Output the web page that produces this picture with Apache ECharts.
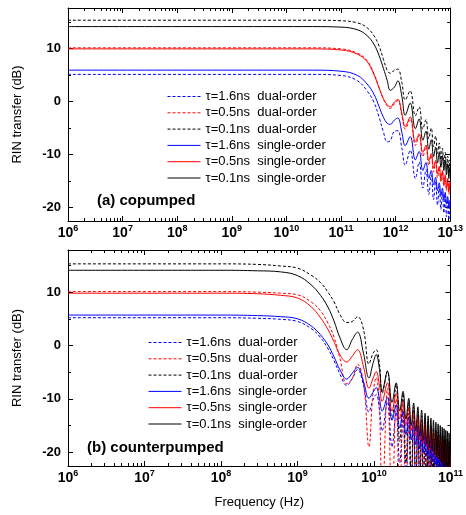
<!DOCTYPE html>
<html>
<head>
<meta charset="utf-8">
<script src="https://cdn.jsdelivr.net/npm/echarts@6/dist/echarts.min.js"></script>
<style>
html, body { margin: 0; padding: 0; background: #fff; }
#chart { width: 466px; height: 515px; }
</style>
</head>
<body>
<div id="chart"></div>
<script>
var FONT = "'Liberation Sans', Arial, sans-serif";

var names = ['τ=1.6ns  dual-order', 'τ=0.5ns  dual-order', 'τ=0.1ns  dual-order',
             'τ=1.6ns  single-order', 'τ=0.5ns  single-order', 'τ=0.1ns  single-order'];
var colors = ['#0000ff', '#ff0000', '#000000', '#0000ff', '#ff0000', '#000000'];
var dashed = [true, true, true, false, false, false];

var yTicks = [-20, -10, 0, 10];
var yMinorTicks = [-15, -5, 5, 15];

// (a) copumped, frequency in Hz, RIN transfer in dB
var coFreq = [1e6, 3e10, 1e11, 2e11, 3e11, 4e11, 5e11, 6e11, 7e11, 8e11, 9.5e11, 1.1e12, 1.3e12, 1.5e12,
  1.85e12, 2.3e12, 2.7e12, 3.15e12, 3.6e12, 4.05e12, 4.5e12, 4.95e12, 5.4e12, 5.85e12, 6.3e12, 6.75e12,
  7.2e12, 7.65e12, 8.1e12, 8.55e12, 9e12, 9.45e12, 9.9e12, 1e13];
var coDual16 = [5.1, 5.1, 4.9, 3.9, 2.0, -0.1, -3.0, -5.8, -7.6, -7.4, -5.6, -5.5, -8.8, -12.0,
  -9.2, -14.5, -11.4, -16.3, -12.8, -17.5, -13.8, -18.5, -15.0, -19.5, -16.0, -20.3,
  -17.0, -21.0, -17.8, -21.7, -18.5, -22.3, -19.2, -20.0];
var coDual05 = [10.1, 10.1, 9.9, 9.1, 7.7, 5.3, 2.6, 0.4, -0.8, -1.3, -0.4, 0.2, -2.6, -5.2,
  -3.3, -8.3, -6.4, -10.4, -8.5, -12.0, -10.1, -13.3, -11.4, -14.4, -12.4, -15.2,
  -13.2, -16.0, -14.0, -16.8, -14.8, -17.5, -15.5, -16.0];
var coDual01 = [15.3, 15.3, 15.2, 14.8, 13.9, 12.4, 10.4, 7.9, 5.9, 5.3, 5.9, 6.1, 3.6, 0.3,
  2.0, -2.7, -1.0, -5.2, -3.4, -7.0, -5.0, -8.5, -6.5, -9.8, -7.8, -11.0,
  -8.8, -12.0, -9.6, -12.8, -10.3, -13.5, -11.0, -11.3];
var coSingle16 = [5.9, 5.9, 5.7, 4.9, 3.3, 1.4, -1.0, -3.0, -4.1, -4.3, -3.5, -3.1, -5.8, -8.3,
  -6.6, -11.0, -9.4, -13.0, -11.5, -14.5, -13.0, -15.7, -14.3, -16.8, -15.3, -17.7,
  -16.3, -18.5, -17.1, -19.3, -17.9, -20.0, -18.6, -19.0];
var coSingle05 = [9.9, 9.9, 9.7, 8.9, 7.5, 5.1, 2.5, 0.5, -0.6, -1.0, -0.1, 0.4, -2.2, -4.7,
  -2.9, -7.6, -6.1, -9.6, -8.2, -11.2, -9.8, -12.5, -11.1, -13.6, -12.2, -14.6,
  -13.0, -15.5, -13.8, -16.3, -14.5, -17.0, -15.2, -15.5];
var coSingle01 = [14.1, 14.1, 14.0, 13.5, 12.4, 10.8, 8.6, 6.2, 4.0, 2.1, 2.7, 3.9, 1.0, -2.6,
  -0.3, -5.1, -3.3, -7.3, -5.6, -9.0, -7.2, -10.4, -8.6, -11.6, -9.6, -12.4,
  -10.2, -13.0, -11.0, -13.8, -11.7, -14.5, -12.3, -12.5];

// (b) counterpumped
var cpFreq = [1e6, 1e8, 3e8, 6e8, 1e9, 1.5e9, 2e9, 2.5e9, 3e9, 3.6e9, 4.4e9, 5.2e9, 6.1e9, 7.3e9,
  8.6e9, 9.7e9, 1.07e10, 1.18e10, 1.28e10,
  1.5e10, 1.72e10, 1.95e10, 2.17e10, 2.4e10, 2.62e10, 2.85e10, 3.07e10, 3.3e10, 3.52e10,
  3.75e10, 3.97e10, 4.2e10, 4.42e10, 4.65e10, 4.87e10, 5.1e10, 5.32e10, 5.55e10, 5.77e10,
  6e10, 6.22e10, 6.45e10, 6.67e10, 6.9e10, 7.12e10, 7.35e10, 7.57e10, 7.8e10, 8.02e10,
  8.25e10, 8.47e10, 8.7e10, 8.92e10, 9.15e10, 9.37e10, 9.6e10, 9.82e10, 1e11];
var cpDual16 = [5.2, 5.2, 5.1, 4.9, 4.5, 3.2, 1.5, -0.6, -2.8, -5.4, -7.5, -6.2, -4.5, -7.5,
  -12.5, -10.2, -9.2, -12.0, -16.0,
  -10.6, -19.0, -12.5, -22.0, -13.8, -25.0, -14.9, -26, -15.8, -26,
  -16.6, -26, -17.3, -26, -17.9, -26, -18.4, -26, -18.9, -26,
  -19.3, -26, -19.7, -26, -20.1, -26, -20.4, -26, -20.7, -26,
  -21.0, -26, -21.3, -26, -21.5, -26, -21.8, -26, -23];
var cpDual05 = [10.1, 10.1, 10.0, 9.8, 9.5, 8.2, 6.5, 4.2, 1.6, -2.5, -7.2, -6.2, -3.5, -7.0,
  -19.0, -9.0, -6.0, -12.0, -30,
  -8.0, -30, -10.0, -30, -11.5, -30, -12.7, -30, -13.6, -30,
  -14.4, -30, -15.1, -30, -15.7, -30, -16.2, -30, -16.7, -30,
  -17.1, -30, -17.5, -30, -17.9, -30, -18.2, -30, -18.5, -30,
  -18.8, -30, -19.1, -30, -19.4, -30, -19.6, -30, -22];
var cpDual01 = [15.3, 15.3, 15.2, 14.9, 14.5, 13.2, 11.8, 10.0, 8.2, 5.8, 4.3, 4.5, 5.4, 3.0,
  -3.5, -1.5, -0.8, -3.5, -9.0,
  -4.8, -14.0, -7.3, -18.0, -9.0, -22.0, -10.4, -26, -11.5, -26,
  -12.4, -26, -13.2, -26, -13.8, -26, -14.4, -26, -14.9, -26,
  -15.4, -26, -15.8, -26, -16.2, -26, -16.5, -26, -16.8, -26,
  -17.1, -26, -17.4, -26, -17.6, -26, -17.9, -26, -20];
var cpSingle16 = [5.7, 5.7, 5.6, 5.4, 5.0, 3.7, 2.0, 0.1, -2.1, -4.6, -6.3, -5.2, -4.1, -6.8,
  -9.9, -8.8, -7.9, -10.0, -12.3,
  -9.8, -14.0, -11.2, -15.5, -12.4, -16.7, -13.5, -17.7, -14.4, -18.6,
  -15.2, -19.4, -15.9, -20.1, -16.5, -20.7, -17.0, -21.3, -17.5, -21.8,
  -17.9, -22.3, -18.3, -22.7, -18.7, -23.1, -19.0, -23.5, -19.3, -23.8,
  -19.6, -24.0, -19.9, -24.0, -20.2, -24.0, -20.4, -24.0, -21.0];
var cpSingle05 = [9.8, 9.8, 9.7, 9.4, 8.9, 7.3, 5.2, 3.0, 0.7, -1.8, -3.1, -2.0, -0.8, -4.0,
  -8.0, -6.2, -4.9, -7.5, -10.5,
  -7.0, -12.3, -9.0, -13.8, -10.5, -15.0, -11.6, -16.0, -12.5, -16.9,
  -13.3, -17.7, -14.0, -18.4, -14.6, -19.0, -15.1, -19.6, -15.6, -20.1,
  -16.0, -20.6, -16.4, -21.0, -16.8, -21.4, -17.1, -21.8, -17.4, -22.2,
  -17.7, -22.5, -18.0, -22.8, -18.3, -23.1, -18.5, -23.4, -20.0];
var cpSingle01 = [14.1, 14.1, 14.0, 13.8, 13.1, 11.4, 9.4, 7.2, 4.6, 1.4, -0.8, 1.1, 2.5, -1.5,
  -6.1, -3.4, -1.7, -4.5, -8.6,
  -4.8, -10.7, -7.0, -12.3, -8.6, -13.8, -9.9, -15.0, -10.8, -16.0,
  -11.5, -17.0, -12.1, -17.8, -12.7, -18.5, -13.2, -19.2, -13.6, -19.8,
  -14.0, -20.4, -14.4, -20.9, -14.7, -21.4, -15.0, -21.9, -15.3, -22.3,
  -15.6, -22.7, -15.9, -23.1, -16.1, -23.5, -16.4, -23.8, -18.0];

var panels = [
  { label: '(a) copumped', freq: coFreq, xMax: 1e13, yMin: -22.5, yMax: 17.6,
    curves: [coDual16, coDual05, coDual01, coSingle16, coSingle05, coSingle01] },
  { label: '(b) counterpumped', freq: cpFreq, xMax: 1e11, yMin: -22.6, yMax: 17.9,
    curves: [cpDual16, cpDual05, cpDual01, cpSingle16, cpSingle05, cpSingle01] }
];
var minorMult = [2, 3, 4, 5, 6, 7, 8, 9];

var chart = echarts.init(document.getElementById('chart'));

var grids = [
  { left: 68, top: 8, width: 384, height: 213 },
  { left: 68, top: 250, width: 384, height: 216 }
];
var xAxes = [], yAxes = [], series = [];

panels.forEach(function (p, gi) {
  var tick = { inside: true, length: 5, lineStyle: { color: '#000', width: 1 } };
  var line = { onZero: false, lineStyle: { color: '#000', width: 1 } };
  xAxes.push({
    type: 'log', logBase: 10, gridIndex: gi, min: 1e6, max: p.xMax, position: 'bottom',
    axisLine: line, axisTick: tick, splitLine: { show: false },
    axisLabel: {
      margin: 3,
      formatter: function (v) { return '{b|10}{s|' + Math.round(Math.log10(v)) + '}'; },
      rich: {
        b: { fontSize: 14, fontWeight: 'bold', fontFamily: FONT, color: '#000', lineHeight: 18 },
        s: { fontSize: 9, fontWeight: 'bold', fontFamily: FONT, color: '#000', verticalAlign: 'top' }
      }
    },
    name: gi === 1 ? 'Frequency (Hz)' : '', nameLocation: 'middle', nameGap: 30,
    nameTextStyle: { fontSize: 13, fontFamily: FONT, color: '#000' }
  });
  xAxes.push({
    type: 'log', logBase: 10, gridIndex: gi, min: 1e6, max: p.xMax, position: 'top',
    axisLine: line, axisTick: tick, axisLabel: { show: false }, splitLine: { show: false }
  });
  yAxes.push({
    type: 'value', gridIndex: gi, min: p.yMin, max: p.yMax, position: 'left',
    axisLine: line,
    axisTick: { inside: true, length: 5, customValues: yTicks, lineStyle: { color: '#000' } },
    axisLabel: { customValues: yTicks, margin: 7, fontSize: 13, fontWeight: 'bold', fontFamily: FONT, color: '#000' },
    splitLine: { show: false },
    name: 'RIN transfer (dB)', nameLocation: 'middle', nameGap: 44,
    nameTextStyle: { fontSize: 13, fontFamily: FONT, color: '#000' }
  });
  yAxes.push({
    type: 'value', gridIndex: gi, min: p.yMin, max: p.yMax, position: 'right',
    axisLine: line,
    axisTick: { inside: true, length: 5, customValues: yTicks, lineStyle: { color: '#000' } },
    axisLabel: { show: false }, splitLine: { show: false }
  });

  p.curves.forEach(function (vals, k) {
    series.push({
      type: 'line', name: names[k], xAxisIndex: gi * 2, yAxisIndex: gi * 2,
      data: p.freq.map(function (f, i) { return [f, vals[i]]; }),
      symbol: 'none', smooth: 0.4, clip: true, z: dashed[k] ? 2 : 3,
      lineStyle: { color: colors[k], width: 1, type: dashed[k] ? [3, 2] : 'solid' },
      itemStyle: { color: colors[k] }
    });
  });

  // minor ticks: decades 2..9 on x, halves of 10 dB on y
  var xMinor = [];
  for (var d = 6; Math.pow(10, d) < p.xMax; d++) {
    minorMult.forEach(function (m) { xMinor.push([m * Math.pow(10, d), p.yMin]); });
  }
  series.push({
    type: 'custom', xAxisIndex: gi * 2, yAxisIndex: gi * 2, silent: true, clip: false, z: 5,
    data: xMinor,
    renderItem: function (params, api) {
      var b = api.coord([api.value(0), p.yMin]);
      var t = api.coord([api.value(0), p.yMax]);
      var x = Math.round(b[0]) + 0.5;
      return { type: 'group', children: [
        { type: 'line', shape: { x1: x, y1: b[1], x2: x, y2: b[1] - 3 }, style: { stroke: '#000', lineWidth: 1 } },
        { type: 'line', shape: { x1: x, y1: t[1], x2: x, y2: t[1] + 3 }, style: { stroke: '#000', lineWidth: 1 } }
      ] };
    }
  });
  series.push({
    type: 'custom', xAxisIndex: gi * 2, yAxisIndex: gi * 2, silent: true, clip: false, z: 5,
    data: yMinorTicks.map(function (v) { return [1e6, v]; }),
    renderItem: function (params, api) {
      var l = api.coord([1e6, api.value(1)]);
      var r = api.coord([p.xMax, api.value(1)]);
      var y = Math.round(l[1]) + 0.5;
      return { type: 'group', children: [
        { type: 'line', shape: { x1: l[0], y1: y, x2: l[0] + 3, y2: y }, style: { stroke: '#000', lineWidth: 1 } },
        { type: 'line', shape: { x1: r[0], y1: y, x2: r[0] - 3, y2: y }, style: { stroke: '#000', lineWidth: 1 } }
      ] };
    }
  });
});

var legendBase = {
  data: names, orient: 'vertical', itemWidth: 33, itemHeight: 13, itemGap: 3.3,
  selectedMode: false, padding: 0,
  itemStyle: { opacity: 0 },
  lineStyle: { width: 1 },
  textStyle: { fontSize: 13, fontFamily: FONT, color: '#000' }
};

var option = {
  animation: false,
  backgroundColor: '#fff',
  title: [
    { text: panels[0].label, left: 97, top: 193, padding: 0,
      textStyle: { fontSize: 15, fontWeight: 'bold', fontFamily: FONT, color: '#000' } },
    { text: panels[1].label, left: 87, top: 440, padding: 0,
      textStyle: { fontSize: 15, fontWeight: 'bold', fontFamily: FONT, color: '#000' } }
  ],
  legend: [
    Object.assign({}, legendBase, { left: 167, top: 90 }),
    Object.assign({}, legendBase, { left: 148, top: 336 })
  ],
  grid: grids,
  xAxis: xAxes,
  yAxis: yAxes,
  series: series
};

chart.setOption(option);
window.onresize = chart.resize;
</script>
</body>
</html>
